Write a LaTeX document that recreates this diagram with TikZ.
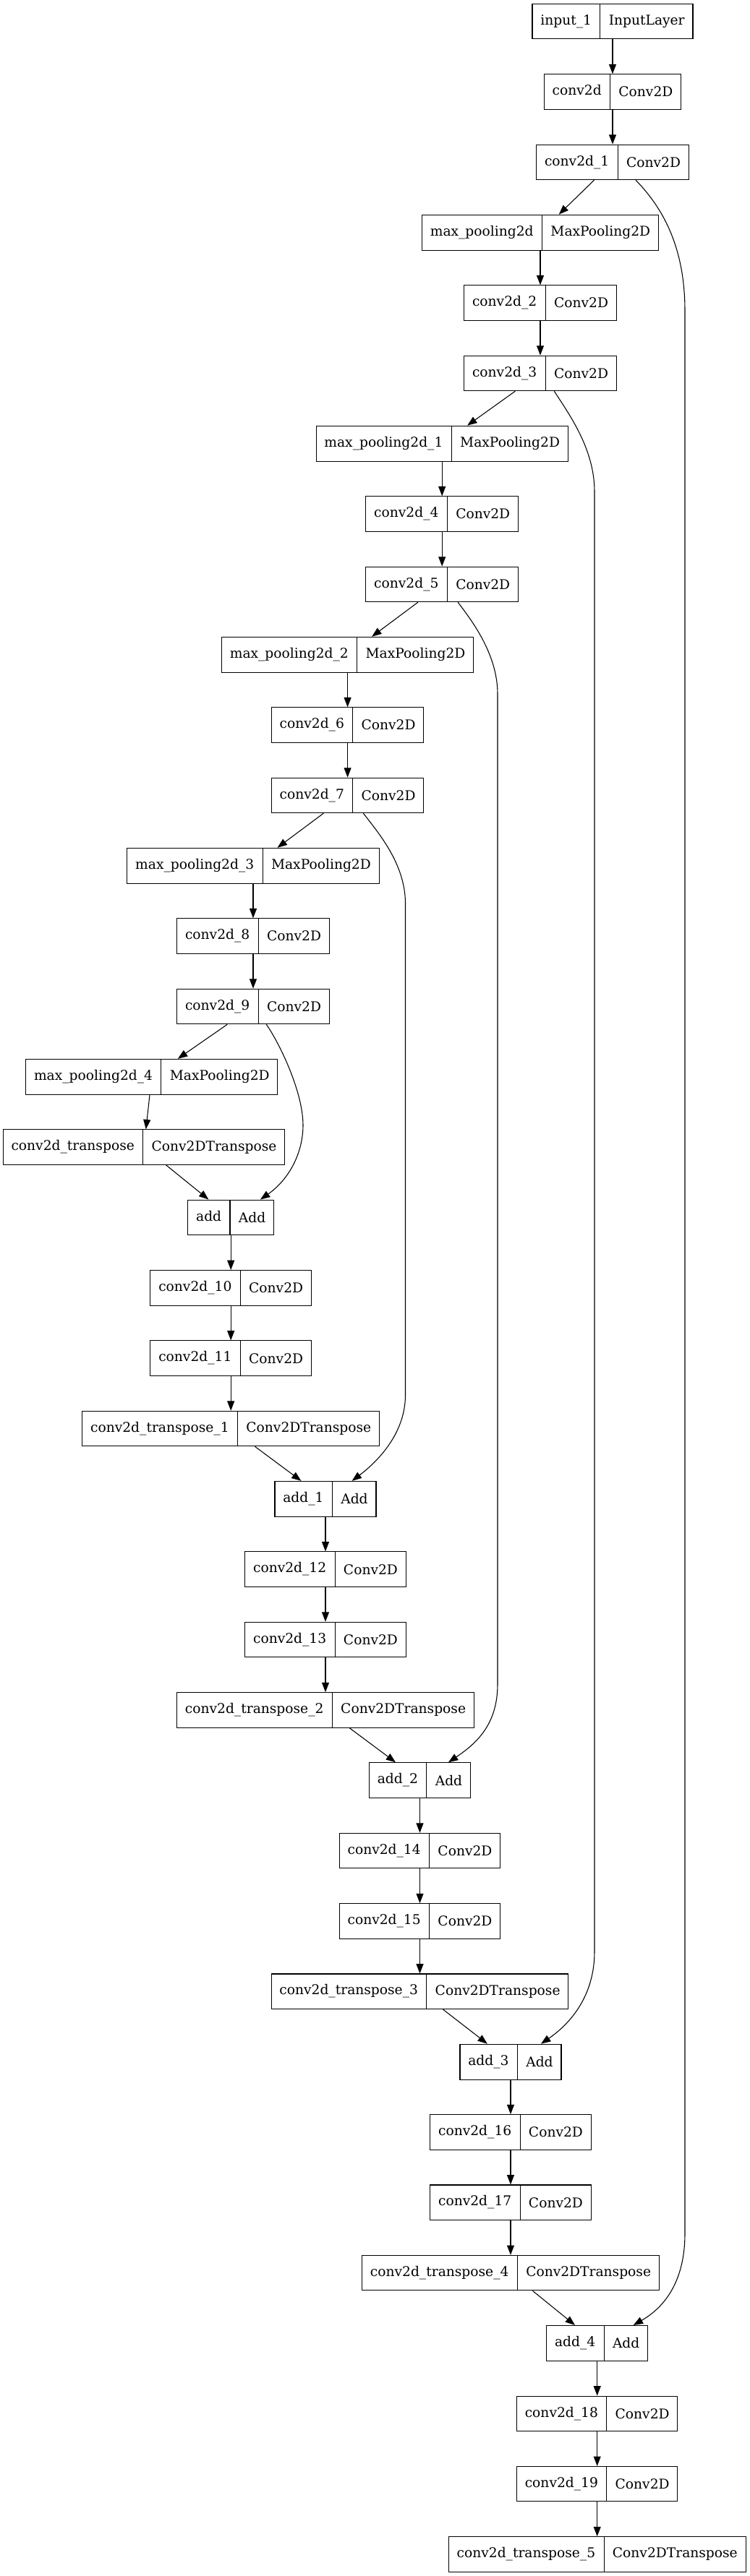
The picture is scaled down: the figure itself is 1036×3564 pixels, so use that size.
\documentclass[tikz,border=0pt]{standalone}
\usepackage{fontspec}
\setmainfont{DejaVu Serif}
\usetikzlibrary{arrows.meta, shapes.multipart}

\begin{document}
\begin{tikzpicture}[
    x=0.75pt, y=-0.75pt,
    >={Triangle[length=10pt, width=7.5pt]},
    line width=0.8pt,
    layer/.style={
        draw,
        rectangle split,
        rectangle split horizontal,
        rectangle split parts=2,
        font=\fontsize{14pt}{17pt}\selectfont,
        inner xsep=8.5pt,
        inner ysep=11.5pt,
        text height=10pt,
        text depth=3pt
    }
]
\useasboundingbox (0,0) rectangle (1036,3564);

% Encoder
\node[layer] (input_1) at (847,29.7) {input\_1\nodepart{two}InputLayer};
\node[layer] (conv2d) at (847,127.0) {conv2d\nodepart{two}Conv2D};
\node[layer] (conv2d_1) at (847,224.4) {conv2d\_1\nodepart{two}Conv2D};
\node[layer] (max_pooling2d) at (747,321.7) {max\_pooling2d\nodepart{two}MaxPooling2D};
\node[layer] (conv2d_2) at (747,419.1) {conv2d\_2\nodepart{two}Conv2D};
\node[layer] (conv2d_3) at (747,516.4) {conv2d\_3\nodepart{two}Conv2D};
\node[layer] (max_pooling2d_1) at (611.2,613.7) {max\_pooling2d\_1\nodepart{two}MaxPooling2D};
\node[layer] (conv2d_4) at (611.2,711.1) {conv2d\_4\nodepart{two}Conv2D};
\node[layer] (conv2d_5) at (611.2,808.4) {conv2d\_5\nodepart{two}Conv2D};
\node[layer] (max_pooling2d_2) at (480.6,905.8) {max\_pooling2d\_2\nodepart{two}MaxPooling2D};
\node[layer] (conv2d_6) at (480.6,1003.1) {conv2d\_6\nodepart{two}Conv2D};
\node[layer] (conv2d_7) at (480.6,1100.4) {conv2d\_7\nodepart{two}Conv2D};
\node[layer] (max_pooling2d_3) at (350,1197.8) {max\_pooling2d\_3\nodepart{two}MaxPooling2D};
\node[layer] (conv2d_8) at (350,1295.1) {conv2d\_8\nodepart{two}Conv2D};
\node[layer] (conv2d_9) at (350,1392.5) {conv2d\_9\nodepart{two}Conv2D};
\node[layer] (max_pooling2d_4) at (209.8,1489.8) {max\_pooling2d\_4\nodepart{two}MaxPooling2D};

% Decoder
\node[layer] (conv2d_transpose) at (199,1587.1) {conv2d\_transpose\nodepart{two}Conv2DTranspose};
\node[layer] (add) at (319.2,1684.5) {add\nodepart{two}Add};
\node[layer] (conv2d_10) at (319.2,1781.8) {conv2d\_10\nodepart{two}Conv2D};
\node[layer] (conv2d_11) at (319.2,1879.2) {conv2d\_11\nodepart{two}Conv2D};
\node[layer] (conv2d_transpose_1) at (319.2,1976.5) {conv2d\_transpose\_1\nodepart{two}Conv2DTranspose};
\node[layer] (add_1) at (450,2073.8) {add\_1\nodepart{two}Add};
\node[layer] (conv2d_12) at (450,2171.2) {conv2d\_12\nodepart{two}Conv2D};
\node[layer] (conv2d_13) at (450,2268.5) {conv2d\_13\nodepart{two}Conv2D};
\node[layer] (conv2d_transpose_2) at (450,2365.9) {conv2d\_transpose\_2\nodepart{two}Conv2DTranspose};
\node[layer] (add_2) at (580.5,2463.2) {add\_2\nodepart{two}Add};
\node[layer] (conv2d_14) at (580.5,2560.5) {conv2d\_14\nodepart{two}Conv2D};
\node[layer] (conv2d_15) at (580.5,2657.9) {conv2d\_15\nodepart{two}Conv2D};
\node[layer] (conv2d_transpose_3) at (580.5,2755.2) {conv2d\_transpose\_3\nodepart{two}Conv2DTranspose};
\node[layer] (add_3) at (706,2852.6) {add\_3\nodepart{two}Add};
\node[layer] (conv2d_16) at (706,2949.9) {conv2d\_16\nodepart{two}Conv2D};
\node[layer] (conv2d_17) at (706,3047.2) {conv2d\_17\nodepart{two}Conv2D};
\node[layer] (conv2d_transpose_4) at (706,3144.6) {conv2d\_transpose\_4\nodepart{two}Conv2DTranspose};
\node[layer] (add_4) at (825.7,3241.9) {add\_4\nodepart{two}Add};
\node[layer] (conv2d_18) at (825.7,3339.3) {conv2d\_18\nodepart{two}Conv2D};
\node[layer] (conv2d_19) at (825.7,3436.6) {conv2d\_19\nodepart{two}Conv2D};
\node[layer] (conv2d_transpose_5) at (825.7,3533.9) {conv2d\_transpose\_5\nodepart{two}Conv2DTranspose};

% Edges
\draw[->] (input_1) -- (conv2d);
\draw[->] (conv2d) -- (conv2d_1);
\draw[->] (conv2d_1) -- (max_pooling2d);
\draw[->] (max_pooling2d) -- (conv2d_2);
\draw[->] (conv2d_2) -- (conv2d_3);
\draw[->] (conv2d_3) -- (max_pooling2d_1);
\draw[->] (max_pooling2d_1) -- (conv2d_4);
\draw[->] (conv2d_4) -- (conv2d_5);
\draw[->] (conv2d_5) -- (max_pooling2d_2);
\draw[->] (max_pooling2d_2) -- (conv2d_6);
\draw[->] (conv2d_6) -- (conv2d_7);
\draw[->] (conv2d_7) -- (max_pooling2d_3);
\draw[->] (max_pooling2d_3) -- (conv2d_8);
\draw[->] (conv2d_8) -- (conv2d_9);
\draw[->] (conv2d_9) -- (max_pooling2d_4);
\draw[->] (max_pooling2d_4) -- (conv2d_transpose);

\draw[->] (conv2d_transpose) -- (add);
\draw[->] (add) -- (conv2d_10);
\draw[->] (conv2d_10) -- (conv2d_11);
\draw[->] (conv2d_11) -- (conv2d_transpose_1);
\draw[->] (conv2d_transpose_1) -- (add_1);
\draw[->] (add_1) -- (conv2d_12);
\draw[->] (conv2d_12) -- (conv2d_13);
\draw[->] (conv2d_13) -- (conv2d_transpose_2);
\draw[->] (conv2d_transpose_2) -- (add_2);
\draw[->] (add_2) -- (conv2d_14);
\draw[->] (conv2d_14) -- (conv2d_15);
\draw[->] (conv2d_15) -- (conv2d_transpose_3);
\draw[->] (conv2d_transpose_3) -- (add_3);
\draw[->] (add_3) -- (conv2d_16);
\draw[->] (conv2d_16) -- (conv2d_17);
\draw[->] (conv2d_17) -- (conv2d_transpose_4);
\draw[->] (conv2d_transpose_4) -- (add_4);
\draw[->] (add_4) -- (conv2d_18);
\draw[->] (conv2d_18) -- (conv2d_19);
\draw[->] (conv2d_19) -- (conv2d_transpose_5);

% Skip connections
\draw[->] ([xshift=24pt]conv2d_1.south) .. controls +(36,37) and +(0,-90) .. (947,430)
    -- (947,3090) .. controls +(0,70) and +(40,-23) .. ([xshift=37.5pt]add_4.north);
\draw[->] ([xshift=14.5pt]conv2d_3.south) .. controls +(19,30) and +(0,-60) .. (822,680)
    -- (822,2700) .. controls +(0,60) and +(42,-29) .. ([xshift=31.5pt]add_3.north);
\draw[->] ([xshift=16.4pt]conv2d_5.south) .. controls +(19,25) and +(0,-55) .. (688,960)
    -- (688,2330) .. controls +(0,55) and +(40,-27) .. ([xshift=29.6pt]add_2.north);
\draw[->] ([xshift=16.3pt]conv2d_7.south) .. controls +(20,26) and +(0,-55) .. (560.5,1250)
    -- (560.5,1930) .. controls +(0,55) and +(33,-25) .. ([xshift=27.5pt]add_1.north);
\draw[->] ([xshift=13.7pt]conv2d_9.south) .. controls +(17,24) and +(0,-47) .. (419,1556.7)
    .. controls +(0,38) and +(40,-28) .. ([xshift=30.6pt]add.north);

\end{tikzpicture}
\end{document}
